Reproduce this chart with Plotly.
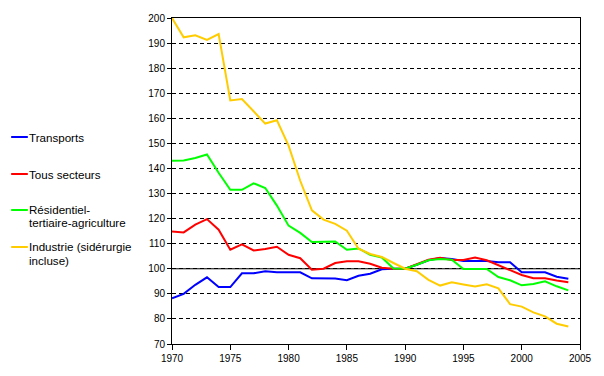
import plotly.graph_objects as go

years = list(range(1970, 2005))

transports = [88.2, 90.0, 93.6, 96.6, 92.7, 92.7, 98.2, 98.2, 99.0, 98.6,
              98.6, 98.6, 96.2, 96.2, 96.1, 95.4, 97.2, 98.0, 99.8, 100.0,
              100.0, 101.6, 103.4, 104.3, 103.9, 103.1, 103.1, 103.1, 102.6, 102.6,
              98.6, 98.6, 98.6, 96.8, 96.0]

tous_secteurs = [114.9, 114.5, 117.6, 119.8, 115.6, 107.6, 109.7, 107.3, 107.9, 108.8,
                 105.6, 104.2, 99.6, 100.0, 102.3, 103.0, 103.0, 102.0, 100.4, 100.0,
                 100.0, 101.9, 103.6, 104.4, 103.5, 103.5, 104.5, 103.4, 101.4, 99.4,
                 97.5, 96.2, 96.2, 95.3, 94.6]

residentiel = [143.1, 143.2, 144.2, 145.6, 138.3, 131.5, 131.5, 134.1, 132.2, 125.2,
               117.2, 114.3, 110.7, 110.7, 110.9, 107.6, 108.1, 105.6, 104.5, 100.1,
               100.0, 101.6, 103.4, 103.9, 103.6, 99.9, 99.9, 99.9, 96.7, 95.4,
               93.4, 93.9, 95.0, 93.0, 91.4]

industrie = [200.0, 192.3, 193.1, 191.3, 193.6, 167.1, 167.7, 162.8, 157.9, 159.2,
             149.1, 135.1, 123.3, 119.6, 117.9, 115.2, 108.0, 105.9, 104.7, 102.3,
             100.0, 99.0, 95.6, 93.3, 94.6, 93.7, 92.9, 93.8, 92.2, 85.9,
             84.9, 82.6, 81.0, 78.1, 77.0]

series_names = [["Transports"],
                ["Tous secteurs"],
                ["Résidentiel-", "tertiaire-agriculture"],
                ["Industrie (sidérurgie", "incluse)"]]
series_values = [transports, tous_secteurs, residentiel, industrie]
series_colors = ["#0000FF", "#FF0000", "#00FF00", "#FFCC00"]

x_ticks = [1970, 1975, 1980, 1985, 1990, 1995, 2000, 2005]
y_ticks = list(range(70, 201, 10))

W, H = 604, 376
ML, MR, MT, MB = 172, 16, 18, 32
PW, PH = W - ML - MR, H - MT - MB

FONT = "Arial, 'Liberation Sans', sans-serif"

fig = go.Figure()
for name, vals, col in zip(series_names, series_values, series_colors):
    fig.add_trace(go.Scatter(x=years, y=vals, mode="lines", name=" ".join(name),
                             line=dict(color=col, width=2), showlegend=False))

# reference line at 100
fig.add_shape(type="line", xref="paper", yref="y", x0=0, x1=1, y0=100, y1=100,
              line=dict(color="black", width=1), layer="below")

# custom legend (left side)
def px_x(p):
    return (p - ML) / PW

def px_y(p):
    return (H - MB - p) / PH

legend_tops = [137, 174, 210, 247]
line_gap = 13
for lines, col, top in zip(series_names, series_colors, legend_tops):
    fig.add_shape(type="line", xref="paper", yref="paper",
                  x0=px_x(8), x1=px_x(25), y0=px_y(top), y1=px_y(top),
                  line=dict(color=col, width=2))
    for i, txt in enumerate(lines):
        fig.add_annotation(xref="paper", yref="paper", x=px_x(24), y=px_y(top + i * line_gap),
                           text=txt, showarrow=False, xanchor="left", yanchor="middle",
                           font=dict(family=FONT, size=11.6, color="black"))

fig.update_layout(
    width=W, height=H,
    margin=dict(l=ML, r=MR, t=MT, b=MB, pad=0),
    paper_bgcolor="white", plot_bgcolor="white",
    font=dict(family=FONT, size=10, color="black"),
    showlegend=False,
)
fig.update_xaxes(range=[1970, 2005], tickvals=x_ticks, ticktext=[str(v) for v in x_ticks],
                 showgrid=False, zeroline=False, showline=True, linecolor="black",
                 linewidth=1, mirror=True, ticks="outside", ticklen=5, tickcolor="black",
                 tickfont=dict(family=FONT, size=10, color="black"))
fig.update_yaxes(range=[70, 200], tickvals=y_ticks, ticktext=[str(v) for v in y_ticks],
                 showgrid=True, gridcolor="black", gridwidth=1, griddash="4px,3px",
                 zeroline=False, showline=True, linecolor="black",
                 linewidth=1, mirror=True, ticks="outside", ticklen=4, tickcolor="black",
                 tickfont=dict(family=FONT, size=10, color="black"))

fig.write_html("out.html", config={"displayModeBar": False},
               post_script="document.body.style.margin='0';document.body.style.padding='0';")
